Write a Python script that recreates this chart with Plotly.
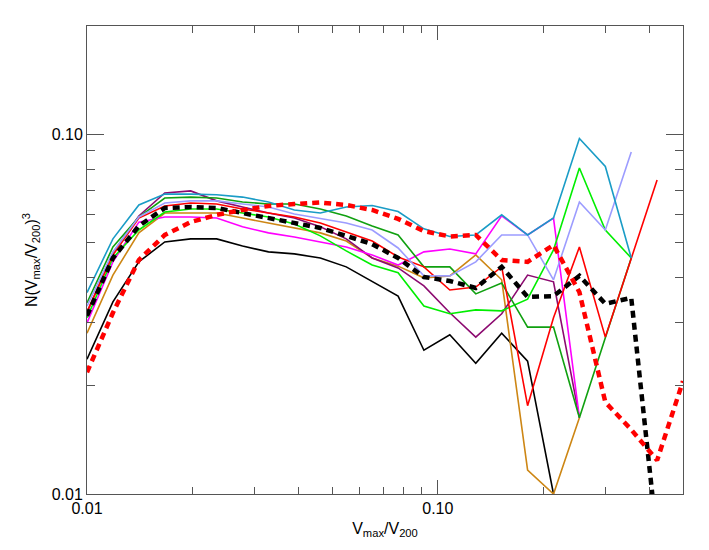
import plotly.graph_objects as go

x_vals = [0.01, 0.011855, 0.014054, 0.016661, 0.019752, 0.023416, 0.02776, 0.03291,
          0.03901, 0.04625, 0.05483, 0.0650, 0.07706, 0.09128, 0.1082, 0.1283,
          0.1521, 0.1803, 0.2137, 0.2533, 0.3003, 0.3560, 0.4218, 0.5]

cyan = [0.0363, 0.0512, 0.0636, 0.0682, 0.0682, 0.0679, 0.0669, 0.0648, 0.0616, 0.0604,
        0.0628, 0.0634, 0.0610, 0.0546, 0.0520, 0.0525, 0.0597, 0.0525, 0.0585, 0.0973,
        0.0814, 0.0453]
lightpurple = [0.0333, 0.0471, 0.0589, 0.0644, 0.0653, 0.0653, 0.0640, 0.0628, 0.0600, 0.0582,
               0.0567, 0.0542, 0.0483, 0.0404, 0.0404, 0.0442, 0.0525, 0.0525, 0.0394, 0.0648,
               0.0542, 0.0893]
darkgreen = [0.0340, 0.0486, 0.0589, 0.0665, 0.0669, 0.0665, 0.0648, 0.0640, 0.0640, 0.0620,
             0.0593, 0.0556, 0.0525, 0.0428, 0.0428, 0.0360, 0.0386, 0.0291, 0.0291, 0.0163,
             0.0272, 0.0453]
green = [0.0309, 0.0453, 0.0542, 0.0608, 0.0620, 0.0620, 0.0604, 0.0589, 0.0563, 0.0522,
         0.0474, 0.0433, 0.0412, 0.0333, 0.0317, 0.0325, 0.0323, 0.0348, 0.0477, 0.0806,
         0.0542, 0.0453]
red = [0.0321, 0.0462, 0.0585, 0.0632, 0.0644, 0.0640, 0.0620, 0.0604, 0.0589, 0.0567,
       0.0535, 0.0505, 0.0456, 0.0428, 0.0369, 0.0376, 0.0428, 0.0176, 0.0309, 0.0486,
       0.0273, 0.0453, 0.0746]
magenta = [0.0299, 0.0442, 0.0570, 0.0589, 0.0589, 0.0585, 0.0553, 0.0532, 0.0518, 0.0502,
           0.0486, 0.0462, 0.0433, 0.0471, 0.0480, 0.0465, 0.0593, 0.0525, 0.0585, 0.0163]
purple = [0.0319, 0.0468, 0.0593, 0.0687, 0.0696, 0.0653, 0.0628, 0.0604, 0.0585, 0.0553,
          0.0512, 0.0453, 0.0425, 0.0379, 0.0319, 0.0273, 0.0317, 0.0406, 0.0389, 0.0163]
orange = [0.0280, 0.0406, 0.0532, 0.0604, 0.0604, 0.0604, 0.0585, 0.0567, 0.0549, 0.0532,
          0.0505, 0.0453, 0.0430, 0.0399, 0.0404, 0.0462, 0.0394, 0.01166, 0.0100, 0.0163]
black = [0.0237, 0.0342, 0.0442, 0.0502, 0.0512, 0.0512, 0.0489, 0.0471, 0.0465, 0.0453,
         0.0428, 0.0389, 0.0355, 0.0251, 0.0277, 0.0231, 0.0280, 0.0234, 0.0100]
black_dashed = [0.0313, 0.0453, 0.0556, 0.0624, 0.0628, 0.0624, 0.0604, 0.0585, 0.0570, 0.0549,
                0.0522, 0.0495, 0.0453, 0.0401, 0.0391, 0.0374, 0.0428, 0.0353, 0.0355, 0.0404,
                0.0338, 0.0351, 0.0075]
red_dashed = [0.0218, 0.0319, 0.0447, 0.0525, 0.0570, 0.0597, 0.0616, 0.0632, 0.0640, 0.0646,
              0.0636, 0.0616, 0.0582, 0.0538, 0.0520, 0.0525, 0.0447, 0.0442, 0.0492, 0.0364,
              0.0180, 0.0151, 0.0124, 0.0206]

x_major = [0.01, 0.1]
x_major_text = ["0.01", "0.10"]
x_minor = [0.02, 0.03, 0.04, 0.05, 0.06, 0.07, 0.08, 0.09, 0.2, 0.3, 0.4, 0.5]
y_major = [0.01, 0.1]
y_major_text = ["0.01", "0.10"]
y_minor = [0.02, 0.03, 0.04, 0.05, 0.06, 0.07, 0.08, 0.09, 0.2]

solid_series = [
    (black, "#000000"),
    (orange, "#cd8614"),
    (purple, "#8c0a70"),
    (magenta, "#ff00ff"),
    (green, "#00ee00"),
    (darkgreen, "#10a010"),
    (red, "#ff0000"),
    (lightpurple, "#9c9cff"),
    (cyan, "#1a9cc6"),
]

fig = go.Figure()
for ys, col in solid_series:
    fig.add_trace(go.Scatter(x=x_vals[:len(ys)], y=ys, mode="lines",
                             line=dict(color=col, width=1.6), showlegend=False))
fig.add_trace(go.Scatter(x=x_vals[:len(black_dashed)], y=black_dashed, mode="lines",
                         line=dict(color="#000000", width=4.5, dash="7px,5px"), showlegend=False))
fig.add_trace(go.Scatter(x=x_vals[:len(red_dashed)], y=red_dashed, mode="lines",
                         line=dict(color="#ff0000", width=4.5, dash="7px,5px"), showlegend=False))

axis_common = dict(
    type="log", showgrid=False, zeroline=False, showline=True, linecolor="#555555",
    linewidth=1, mirror="allticks", ticks="inside", tickcolor="#555555", tickwidth=1,
    tickfont=dict(family="Liberation Sans, Arial, sans-serif", size=16, color="#000000"),
)

fig.update_xaxes(
    **axis_common, range=[-2, -0.30103], tickmode="array", tickvals=x_major,
    ticktext=x_major_text, ticklen=14,
    minor=dict(tickmode="array", tickvals=x_minor, ticks="inside", ticklen=7,
               tickcolor="#555555", showgrid=False),
    title=dict(text="V<sub>max</sub>/V<sub>200</sub>", standoff=6,
               font=dict(family="Liberation Sans, Arial, sans-serif", size=16, color="#000000")),
)
fig.update_yaxes(
    **axis_common, range=[-2, -0.69897], tickmode="array", tickvals=y_major,
    ticktext=y_major_text, ticklen=17,
    minor=dict(tickmode="array", tickvals=y_minor, ticks="inside", ticklen=8,
               tickcolor="#555555", showgrid=False),
    title=dict(text="N(V<sub>max</sub>/V<sub>200</sub>)<sup>3</sup>", standoff=10,
               font=dict(family="Liberation Sans, Arial, sans-serif", size=16, color="#000000")),
)

fig.update_layout(
    width=709, height=550,
    margin=dict(l=79, r=34, t=18, b=64),
    paper_bgcolor="white", plot_bgcolor="white",
    showlegend=False,
)

fig.write_html("out.html")
